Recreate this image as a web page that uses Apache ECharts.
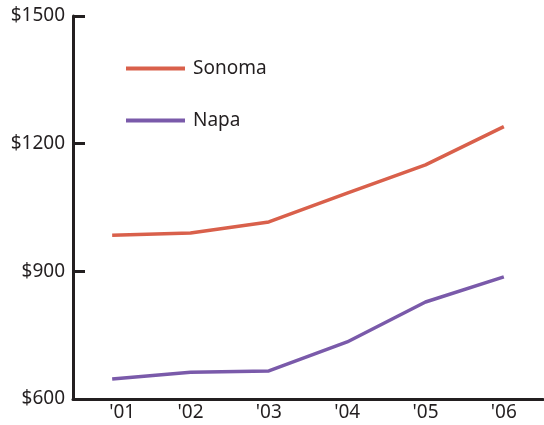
<!DOCTYPE html>
<html>
<head>
<meta charset="utf-8">
<script src="https://cdn.jsdelivr.net/npm/echarts@6/dist/echarts.min.js"></script>
<style>
  html, body { margin: 0; padding: 0; background: #fff; }
  #chart { width: 544px; height: 425px; }
</style>
</head>
<body>
<div id="chart"></div>
<script>
// Median monthly rent by year
const years = ["'01", "'02", "'03", "'04", "'05", "'06"];
const sonoma = [985, 990, 1016, 1084, 1150, 1240];
const napa = [647, 663, 666, 734, 828, 887];
const yTicks = [600, 900, 1200, 1500];

const ink = '#231f20';
const font = '"Noto Sans", "Open Sans", sans-serif';
const fs = 19;

const chart = echarts.init(document.getElementById('chart'), null, { renderer: 'canvas' });
chart.setOption({
  animation: false,
  backgroundColor: '#fff',
  grid: { left: 73, right: 1, top: 16, bottom: 26, containLabel: false },
  legend: {
    left: 121, top: 54,
    orient: 'vertical',
    icon: 'rect',
    itemWidth: 59, itemHeight: 4,
    itemGap: 33,
    textStyle: { fontFamily: font, fontSize: fs, color: ink, padding: [0, 0, 0, 3] },
    data: ['Sonoma', 'Napa']
  },
  xAxis: {
    type: 'category',
    data: years,
    boundaryGap: true,
    axisLine: { lineStyle: { color: ink, width: 3 } },
    axisTick: { inside: true, length: 9, lineStyle: { color: ink, width: 3 } },
    axisLabel: {
      interval: 0,
      fontFamily: font, fontSize: fs, color: ink, margin: 4,
      formatter: function (v, i) { return i === 0 ? '{a|' + v + '}' : v; },
      rich: { a: { fontFamily: font, fontSize: fs, color: ink, padding: [0, 0, 0, 20] } }
    },
    splitLine: { show: false }
  },
  yAxis: {
    type: 'value',
    min: yTicks[0], max: yTicks[yTicks.length - 1], interval: 300,
    axisLine: { show: true, lineStyle: { color: ink, width: 3 } },
    axisTick: { show: true, inside: true, length: 12, lineStyle: { color: ink, width: 3 } },
    axisLabel: {
      fontFamily: font, fontSize: fs, color: ink, margin: 8,
      formatter: function (v) { return '$' + v; }
    },
    splitLine: { show: false }
  },
  series: [
    {
      name: 'Sonoma', type: 'line', data: sonoma,
      symbol: 'none', color: '#d9604b',
      lineStyle: { width: 3.5, color: '#d9604b' }
    },
    {
      name: 'Napa', type: 'line', data: napa,
      symbol: 'none', color: '#7a5aaa',
      lineStyle: { width: 3.5, color: '#7a5aaa' }
    }
  ]
});
</script>
</body>
</html>
